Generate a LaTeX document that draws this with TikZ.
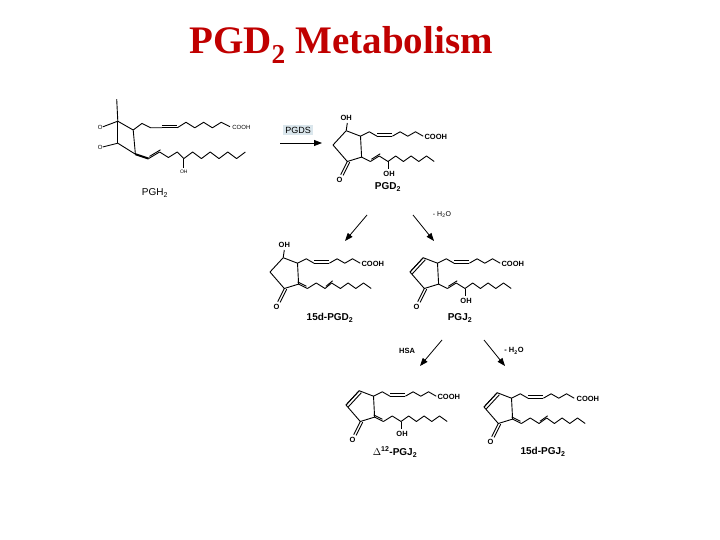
\documentclass[tikz,border=0pt]{standalone}
\usepackage{fontspec}
\setmainfont{Liberation Serif}
\setsansfont{Liberation Sans}
\usetikzlibrary{arrows.meta}
\definecolor{titlered}{RGB}{192,0,0}
\definecolor{pgdsbox}{RGB}{218,230,236}
\tikzset{
  bond/.style = {line width=0.9pt, line join=round},
  atom/.style = {inner sep=0pt, font=\sffamily\bfseries\fontsize{7.5}{8}\selectfont},
  molname/.style = {inner sep=0pt, font=\sffamily\bfseries\fontsize{10}{12}\selectfont},
  step_arrow/.style = {-{Triangle[length=8pt,width=6pt]}, line width=0.8pt},
  mol/.style = {scale=1.1}
}
% double bond: line plus a shifted copy
\newcommand{\dbl}[3][0,-2.2]{\draw[bond] #2 -- #3; \draw[bond,shift={(#1)}] #2 -- #3;}
% cyclopentane ring with ketone, L TL TR BR BL
\newcommand{\pgring}{%
  \coordinate (L) at (0,0); \coordinate (TL) at (12,-13);
  \coordinate (TR) at (25,-8); \coordinate (BR) at (26,11);
  \coordinate (BL) at (13,15);
  \draw[bond] (L) -- (TL) -- (TR) -- (BR) -- (BL) -- cycle;
  \dbl[2.2,0.6]{(13,15)}{(7,27)}
  \node[atom] (oket) at (6,32) {O};}
\begin{document}
\begin{tikzpicture}[x=1pt,y=-1pt]
\useasboundingbox (0,0) rectangle (720,540);
\node[font=\fontsize{39}{44}\selectfont\bfseries, text=titlered] (title) at (341,45) {PGD\textsubscript{2} Metabolism};

% PGH2
\begin{scope}[shift={(98,108)},mol]
  \coordinate (ap) at (18,12); \coordinate (c8) at (32,20);
  \coordinate (c12) at (34,42); \coordinate (c11) at (18,32);
  \draw[bond] (17,-8) -- (ap) -- (c8) -- (c12) -- (c11);
  \draw[bond] (ap) -- (c11);
  \node[atom,font=\sffamily\fontsize{6}{7}\selectfont] (o1) at (2,18) {O};
  \node[atom,font=\sffamily\fontsize{6}{7}\selectfont] (o2) at (2,36) {O};
  \draw[bond] (o1) -- (ap); \draw[bond] (o2) -- (c11);
  \draw[bond] (c8) -- (40,14) -- (48,18) -- (58,18);
  \dbl{(58,18)}{(72,18)}
  \draw[bond] (72,18) -- (80,13) -- (88,18) -- (96,13) -- (104,18) -- (112,13) -- (120,17);
  \node[atom,font=\sffamily\fontsize{6}{7}\selectfont,anchor=west] (cooh1) at (122,18) {COOH};
  \draw[bond,line width=2pt] (c12) -- (46,46);
  \dbl[0.8,-2]{(46,46)}{(56,40)}
  \draw[bond] (56,40) -- (64,45) -- (72,40) -- (78,46) -- (86,40) -- (94,46) -- (102,40) -- (110,46) -- (118,40) -- (126,46) -- (134,40);
  \draw[bond] (78,46) -- (78,55);
  \node[atom,font=\sffamily\fontsize{5}{6}\selectfont] (oh1) at (78,58) {OH};
\end{scope}
\node[molname,font=\sffamily\fontsize{10}{12}\selectfont] (pgh2) at (155,193) {PGH\textsubscript{2}};

% PGDS step
\node[fill=pgdsbox, inner sep=2pt, font=\sffamily\fontsize{9}{10}\selectfont] (pgds) at (298,130) {PGDS};
\coordinate (a0) at (280,143);
\coordinate (a1) at (322,143);
\draw[step_arrow] (a0) -- (a1);

% PGD2
\begin{scope}[shift={(333,145)},mol]
  \pgring
  \draw[bond] (TL) -- (13,-20); \node[atom] (oh2a) at (12,-25) {OH};
  \draw[bond] (TR) -- (33,-12) -- (40,-8);
  \dbl{(40,-8)}{(54,-8)}
  \draw[bond] (54,-8) -- (61,-12) -- (68,-8) -- (75,-12) -- (82,-8);
  \node[atom,anchor=west] (cooh2) at (83,-7) {COOH};
  \draw[bond] (BR) -- (34,15);
  \dbl[0.9,-2]{(34,15)}{(42,10)}
  \draw[bond] (42,10) -- (50,15) -- (57,10) -- (64,15) -- (71,10) -- (78,15) -- (85,10) -- (92,15);
  \draw[bond] (50,15) -- (50,22); \node[atom] (oh2b) at (51,26) {OH};
\end{scope}
\node[molname] (pgd2) at (388,187) {PGD\textsubscript{2}};

% arrows from PGD2
\coordinate (b0) at (367,215); \coordinate (b1) at (345,241);
\coordinate (c0) at (413,215); \coordinate (c1) at (434,241);
\draw[step_arrow] (b0) -- (b1);
\draw[step_arrow] (c0) -- (c1);
\node[atom,font=\sffamily\fontsize{7}{8}\selectfont] (h2oa) at (442,215) {- H\textsubscript{2}O};

% 15d-PGD2
\begin{scope}[shift={(270,272)},mol]
  \pgring
  \draw[bond] (TL) -- (13,-20); \node[atom] (oh3a) at (13,-25) {OH};
  \draw[bond] (TR) -- (33,-12) -- (40,-8);
  \dbl{(40,-8)}{(54,-8)}
  \draw[bond] (54,-8) -- (61,-12) -- (68,-8) -- (75,-12) -- (82,-8);
  \node[atom,anchor=west] (cooh3) at (83,-7) {COOH};
  \dbl[-0.9,-2]{(26,11)}{(34,15)}
  \draw[bond] (34,15) -- (42,10) -- (50,15);
  \dbl[0.9,-2]{(50,15)}{(56,10)}
  \draw[bond] (56,10) -- (64,15) -- (71,10) -- (78,15) -- (85,10) -- (92,15);
\end{scope}
\node[molname] (pgd15) at (330,318) {15d-PGD\textsubscript{2}};

% PGJ2
\begin{scope}[shift={(410,272)},mol]
  \pgring
  \dbl[2,1.8]{(0,0)}{(12,-13)}
  \draw[bond] (TR) -- (33,-12) -- (40,-8);
  \dbl{(40,-8)}{(54,-8)}
  \draw[bond] (54,-8) -- (61,-12) -- (68,-8) -- (75,-12) -- (82,-8);
  \node[atom,anchor=west] (cooh4) at (83,-7) {COOH};
  \draw[bond] (BR) -- (34,15);
  \dbl[0.9,-2]{(34,15)}{(42,10)}
  \draw[bond] (42,10) -- (50,15) -- (57,10) -- (64,15) -- (71,10) -- (78,15) -- (85,10) -- (92,15);
  \draw[bond] (50,15) -- (50,22); \node[atom] (oh4) at (51,26) {OH};
\end{scope}
\node[molname] (pgj2) at (460,318) {PGJ\textsubscript{2}};

% arrows from PGJ2
\coordinate (d0) at (442,340); \coordinate (d1) at (420,366);
\coordinate (e0) at (484,340); \coordinate (e1) at (505,366);
\draw[step_arrow] (d0) -- (d1);
\draw[step_arrow] (e0) -- (e1);
\node[atom] (hsa) at (407,351) {HSA};
\node[atom] (h2ob) at (514,351) {- H\textsubscript{2}O};

% Delta12-PGJ2
\begin{scope}[shift={(346,405)},mol]
  \pgring
  \dbl[2,1.8]{(0,0)}{(12,-13)}
  \draw[bond] (TR) -- (33,-12) -- (40,-8);
  \dbl{(40,-8)}{(54,-8)}
  \draw[bond] (54,-8) -- (61,-12) -- (68,-8) -- (75,-12) -- (82,-8);
  \node[atom,anchor=west] (cooh5) at (83,-7) {COOH};
  \dbl[-0.9,-2]{(26,11)}{(34,15)}
  \draw[bond] (34,15) -- (42,10) -- (50,15) -- (57,10) -- (64,15) -- (71,10) -- (78,15) -- (85,10) -- (92,15);
  \draw[bond] (50,15) -- (50,22); \node[atom] (oh5) at (51,26) {OH};
\end{scope}
\node[molname] (dpgj2) at (395,452) {$\Delta$\textsuperscript{12}-PGJ\textsubscript{2}};

% 15d-PGJ2
\begin{scope}[shift={(484,407)},mol]
  \pgring
  \dbl[2,1.8]{(0,0)}{(12,-13)}
  \draw[bond] (TR) -- (33,-12) -- (40,-8);
  \dbl{(40,-8)}{(54,-8)}
  \draw[bond] (54,-8) -- (61,-12) -- (68,-8) -- (75,-12) -- (82,-8);
  \node[atom,anchor=west] (cooh6) at (84,-7) {COOH};
  \dbl[-0.9,-2]{(26,11)}{(34,15)}
  \draw[bond] (34,15) -- (42,10) -- (50,15);
  \dbl[0.9,-2]{(50,15)}{(57,10)}
  \draw[bond] (57,10) -- (64,15) -- (71,10) -- (78,15) -- (85,10) -- (92,15);
\end{scope}
\node[molname] (pgj15) at (543,452) {15d-PGJ\textsubscript{2}};
\end{tikzpicture}
\end{document}
